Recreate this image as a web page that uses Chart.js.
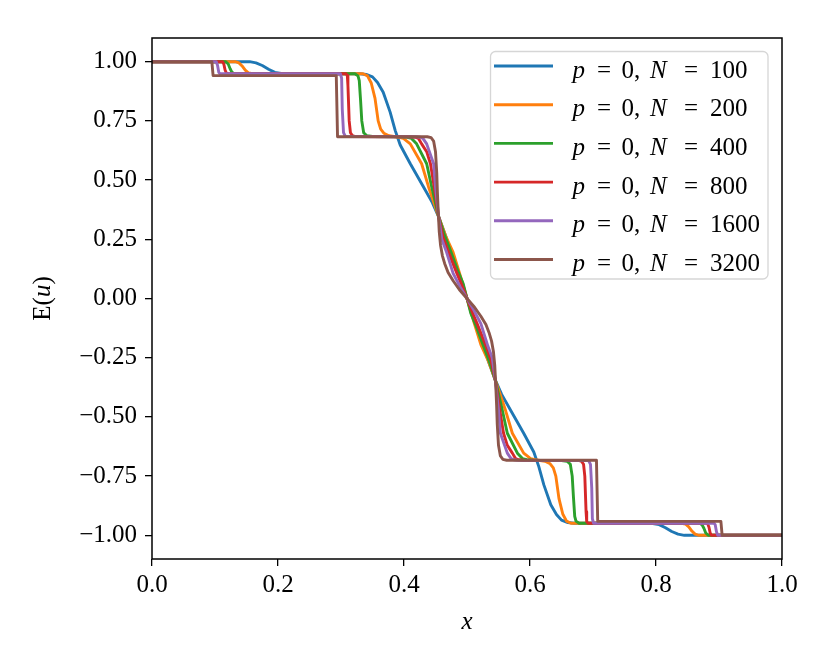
<!DOCTYPE html>
<html><head><meta charset="utf-8">
<script src="https://cdn.jsdelivr.net/npm/chart.js@4.4.1/dist/chart.umd.min.js"></script>
<style>html,body{margin:0;padding:0;background:#fff;} canvas{display:block;}</style>
</head><body>
<canvas id="c" width="830" height="664"></canvas>
<script>
// ---- data ----
const seriesN = [100, 200, 400, 800, 1600, 3200];
const seriesColors = ['#1f77b4', '#ff7f0e', '#2ca02c', '#d62728', '#9467bd', '#8c564b'];
const xTickValues = [0, 0.2, 0.4, 0.6, 0.8, 1.0];
const xTickLabels = ['0.0', '0.2', '0.4', '0.6', '0.8', '1.0'];
const yTickValues = [-1, -0.75, -0.5, -0.25, 0, 0.25, 0.5, 0.75, 1];
const yTickLabels = ['\u22121.00', '\u22120.75', '\u22120.50', '\u22120.25', '0.00', '0.25', '0.50', '0.75', '1.00'];

const n100X = [0, 0.155, 0.165, 0.175, 0.185, 0.195, 0.205, 0.22, 0.33, 0.34, 0.35, 0.358, 0.367, 0.378, 0.386, 0.394, 0.41, 0.431, 0.445, 0.455, 0.466, 0.478, 0.49, 0.5,
  0.51, 0.522, 0.534, 0.545, 0.555, 0.569, 0.59, 0.606, 0.614, 0.622, 0.633, 0.642, 0.65, 0.66, 0.67, 0.78, 0.795, 0.805, 0.815, 0.825, 0.835, 0.845, 1];
const n100Y = [1, 1, 0.995, 0.984, 0.968, 0.955, 0.95, 0.949, 0.949, 0.946, 0.936, 0.912, 0.871, 0.787, 0.71, 0.648, 0.569, 0.471, 0.405, 0.345, 0.265, 0.17, 0.08, 0,
  -0.08, -0.17, -0.265, -0.345, -0.405, -0.471, -0.569, -0.648, -0.71, -0.787, -0.871, -0.912, -0.936, -0.946, -0.949, -0.949, -0.95, -0.955, -0.968, -0.984, -0.995, -1, -1];

const n200X = [0, 0.132, 0.138, 0.143, 0.148, 0.153, 0.16, 0.17, 0.335, 0.342, 0.348, 0.354, 0.359, 0.363, 0.368, 0.376, 0.384, 0.392, 0.399, 0.41, 0.428, 0.439, 0.455, 0.466, 0.478, 0.489, 0.5,
  0.511, 0.522, 0.534, 0.545, 0.561, 0.572, 0.59, 0.601, 0.608, 0.616, 0.624, 0.632, 0.637, 0.641, 0.646, 0.652, 0.658, 0.665, 0.83, 0.84, 0.847, 0.852, 0.857, 0.862, 0.868, 1];
const n200Y = [1, 1, 0.995, 0.982, 0.964, 0.953, 0.949, 0.949, 0.949, 0.94, 0.91, 0.845, 0.75, 0.715, 0.698, 0.687, 0.684, 0.681, 0.676, 0.653, 0.569, 0.471, 0.345, 0.265, 0.195, 0.1, 0,
  -0.1, -0.195, -0.265, -0.345, -0.471, -0.569, -0.653, -0.676, -0.681, -0.684, -0.687, -0.698, -0.715, -0.75, -0.845, -0.91, -0.94, -0.949, -0.949, -0.949, -0.953, -0.964, -0.982, -0.995, -1, -1];

const n400X = [0, 0.117, 0.121, 0.124, 0.127, 0.130, 0.135, 0.322, 0.327, 0.329, 0.331, 0.333, 0.336, 0.341, 0.35, 0.395, 0.405, 0.412, 0.42, 0.436, 0.444, 0.455, 0.464, 0.474, 0.485, 0.494, 0.5,
  0.506, 0.515, 0.526, 0.536, 0.545, 0.556, 0.564, 0.58, 0.588, 0.595, 0.605, 0.65, 0.659, 0.664, 0.667, 0.669, 0.671, 0.673, 0.678, 0.865, 0.87, 0.873, 0.876, 0.879, 0.883, 1];
const n400Y = [1, 1, 0.99, 0.97, 0.955, 0.95, 0.949, 0.949, 0.94, 0.92, 0.84, 0.75, 0.70, 0.687, 0.684, 0.683, 0.681, 0.676, 0.653, 0.569, 0.471, 0.345, 0.27, 0.2, 0.12, 0.062, 0,
  -0.062, -0.12, -0.2, -0.27, -0.345, -0.471, -0.569, -0.653, -0.676, -0.681, -0.683, -0.684, -0.687, -0.70, -0.75, -0.84, -0.92, -0.94, -0.949, -0.949, -0.95, -0.955, -0.97, -0.99, -1, -1];

const n800X = [0, 0.112, 0.114, 0.116, 0.118, 0.121, 0.308, 0.31, 0.311, 0.313, 0.315, 0.318, 0.323, 0.41, 0.418, 0.423, 0.428, 0.436, 0.442, 0.448, 0.455, 0.462, 0.47, 0.484, 0.491, 0.5,
  0.509, 0.516, 0.53, 0.538, 0.545, 0.552, 0.558, 0.564, 0.572, 0.577, 0.582, 0.59, 0.677, 0.682, 0.685, 0.687, 0.689, 0.69, 0.692, 0.879, 0.882, 0.884, 0.886, 0.888, 1];
const n800Y = [1, 1, 0.99, 0.965, 0.952, 0.949, 0.949, 0.942, 0.9, 0.75, 0.7, 0.688, 0.684, 0.683, 0.681, 0.676, 0.653, 0.62, 0.569, 0.471, 0.345, 0.26, 0.2, 0.106, 0.062, 0,
  -0.062, -0.106, -0.2, -0.26, -0.345, -0.471, -0.569, -0.62, -0.653, -0.676, -0.681, -0.683, -0.684, -0.688, -0.7, -0.75, -0.9, -0.942, -0.949, -0.949, -0.952, -0.965, -0.99, -1, -1];

const n1600X = [0, 0.102, 0.104, 0.106, 0.108, 0.299, 0.301, 0.302, 0.304, 0.307, 0.42, 0.426, 0.43, 0.436, 0.447, 0.45, 0.455, 0.46, 0.467, 0.478, 0.489, 0.5,
  0.511, 0.522, 0.533, 0.54, 0.545, 0.55, 0.553, 0.564, 0.57, 0.574, 0.58, 0.693, 0.696, 0.698, 0.699, 0.701, 0.892, 0.894, 0.896, 0.898, 1];
const n1600Y = [1, 1, 0.985, 0.955, 0.949, 0.949, 0.93, 0.8, 0.7, 0.684, 0.683, 0.681, 0.676, 0.653, 0.569, 0.471, 0.345, 0.25, 0.2, 0.106, 0.05, 0,
  -0.05, -0.106, -0.2, -0.25, -0.345, -0.471, -0.569, -0.653, -0.676, -0.681, -0.683, -0.684, -0.7, -0.8, -0.93, -0.949, -0.949, -0.955, -0.985, -1, -1];

const n3200X = [0, 0.095, 0.097, 0.2925, 0.2945, 0.437, 0.443, 0.447, 0.45, 0.452, 0.453, 0.4545, 0.456, 0.458, 0.461, 0.4645, 0.47, 0.478, 0.488, 0.5,
  0.512, 0.522, 0.53, 0.5355, 0.539, 0.542, 0.544, 0.5455, 0.547, 0.548, 0.55, 0.553, 0.557, 0.563, 0.7055, 0.7075, 0.903, 0.905, 1];
const n3200Y = [1, 1, 0.941, 0.941, 0.683, 0.683, 0.679, 0.665, 0.62, 0.53, 0.45, 0.357, 0.28, 0.225, 0.18, 0.148, 0.11, 0.075, 0.037, 0,
  -0.037, -0.075, -0.11, -0.148, -0.18, -0.225, -0.28, -0.357, -0.45, -0.53, -0.62, -0.665, -0.679, -0.683, -0.683, -0.941, -0.941, -1, -1];

const seriesX = [n100X, n200X, n400X, n800X, n1600X, n3200X];
const seriesY = [n100Y, n200Y, n400Y, n800Y, n1600Y, n3200Y];

// ---- chart ----
const SERIF = "'Liberation Serif', 'DejaVu Serif', serif";
const FS = 25;
const LW = 2.9;

const datasets = seriesN.map((n, i) => ({
  label: 'p = 0, N = ' + n,
  data: seriesX[i].map((x, k) => ({ x: x, y: seriesY[i][k] })),
  borderColor: seriesColors[i],
  backgroundColor: seriesColors[i],
  borderWidth: LW,
  borderJoinStyle: 'round',
  pointRadius: 0,
  tension: 0,
  fill: false,
  order: seriesN.length - 1 - i
}));

const decorPlugin = {
  id: 'decor',
  afterDraw(chart) {
    const ctx = chart.ctx;
    const a = chart.chartArea;
    ctx.save();
    // frame
    ctx.strokeStyle = '#000';
    ctx.lineWidth = 1.5;
    ctx.strokeRect(a.left, a.top, a.right - a.left, a.bottom - a.top);

    // legend box
    const bx = 490.5, by = 51.5, bw = 277.5, bh = 227.5;
    ctx.beginPath();
    ctx.roundRect(bx, by, bw, bh, 5);
    ctx.fillStyle = 'rgba(255,255,255,0.8)';
    ctx.fill();
    ctx.strokeStyle = 'rgba(204,204,204,0.8)';
    ctx.lineWidth = 1.3;
    ctx.stroke();

    const upright = FS + 'px ' + SERIF;
    const ital = 'italic ' + FS + 'px ' + SERIF;
    seriesN.forEach((n, i) => {
      const ry = 66 + i * 38.7;
      ctx.strokeStyle = seriesColors[i];
      ctx.lineWidth = LW;
      ctx.beginPath();
      ctx.moveTo(494, ry);
      ctx.lineTo(553, ry);
      ctx.stroke();
      const tx = 572.5, ty = ry + 11.5;
      ctx.fillStyle = '#000';
      ctx.textBaseline = 'alphabetic';
      ctx.textAlign = 'left';
      ctx.font = ital; ctx.fillText('p', tx, ty);
      ctx.font = upright; ctx.textAlign = 'center'; ctx.fillText('=', tx + 31.5, ty);
      ctx.textAlign = 'left'; ctx.fillText('0,', tx + 49, ty);
      ctx.font = ital; ctx.fillText('N', tx + 77.5, ty);
      ctx.font = upright; ctx.textAlign = 'center'; ctx.fillText('=', tx + 118.5, ty);
      ctx.textAlign = 'left'; ctx.fillText(String(n), tx + 137.5, ty);
    });

    // x axis title
    ctx.fillStyle = '#000';
    ctx.font = ital;
    ctx.textAlign = 'center';
    ctx.textBaseline = 'alphabetic';
    ctx.fillText('x', (a.left + a.right) / 2, 629);

    // y axis title E(u)
    ctx.save();
    ctx.translate(50, (a.top + a.bottom) / 2);
    ctx.rotate(-Math.PI / 2);
    const parts = [['E(', upright], ['u', ital], [')', upright]];
    let total = 0;
    parts.forEach(p => { ctx.font = p[1]; total += ctx.measureText(p[0]).width; });
    let cx = -total / 2;
    ctx.textAlign = 'left';
    parts.forEach(p => { ctx.font = p[1]; ctx.fillText(p[0], cx, 0); cx += ctx.measureText(p[0]).width; });
    ctx.restore();

    ctx.restore();
  }
};

new Chart(document.getElementById('c'), {
  type: 'line',
  data: { datasets: datasets },
  options: {
    responsive: false,
    animation: false,
    devicePixelRatio: 1,
    layout: { padding: { left: 0, right: 48, top: 38, bottom: 0 } },
    plugins: { legend: { display: false }, tooltip: { enabled: false } },
    scales: {
      x: {
        type: 'linear', min: 0, max: 1,
        afterBuildTicks: s => { s.ticks = xTickValues.map(v => ({ value: v })); },
        afterFit: s => { s.height = 105; },
        ticks: {
          autoSkip: false, maxRotation: 0, padding: 4, color: '#000',
          font: { family: SERIF, size: FS },
          callback: (v, i) => xTickLabels[i]
        },
        grid: { drawOnChartArea: false, drawTicks: true, tickLength: 7, color: '#000', lineWidth: 1.3 },
        border: { display: false }
      },
      y: {
        type: 'linear', min: -1.1, max: 1.1,
        afterBuildTicks: s => { s.ticks = yTickValues.map(v => ({ value: v })); },
        afterFit: s => { s.width = 152; },
        ticks: {
          autoSkip: false, padding: 8, color: '#000',
          font: { family: SERIF, size: FS },
          callback: (v, i) => yTickLabels[i]
        },
        grid: { drawOnChartArea: false, drawTicks: true, tickLength: 7, color: '#000', lineWidth: 1.3 },
        border: { display: false }
      }
    }
  },
  plugins: [decorPlugin]
});
</script>
</body></html>
